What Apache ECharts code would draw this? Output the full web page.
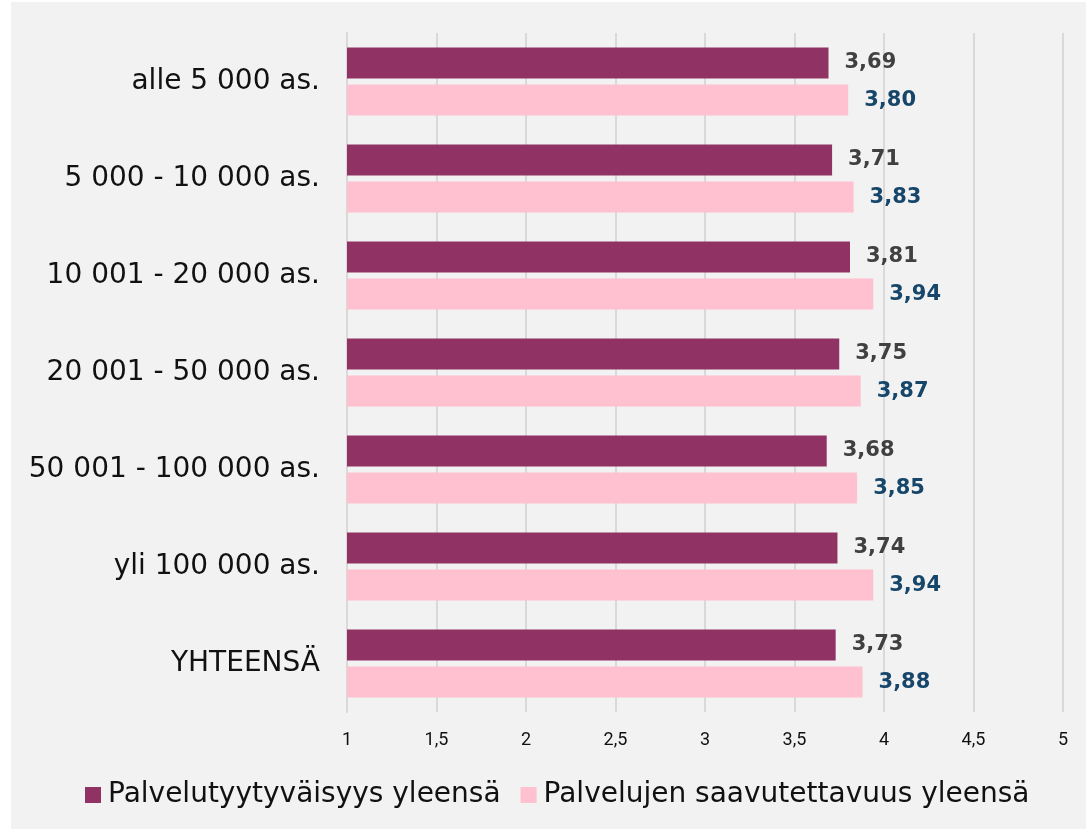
<!DOCTYPE html>
<html>
<head>
<meta charset="utf-8">
<script src="https://cdn.jsdelivr.net/npm/echarts@6/dist/echarts.min.js"></script>
<style>
html,body{margin:0;padding:0;background:#ffffff;}
#bg{position:absolute;left:11px;top:2px;width:1075px;height:827px;background:#f2f2f2;}
#chart{position:absolute;left:0;top:0;width:1086px;height:829px;}
</style>
</head>
<body>
<div id="bg"></div>
<div id="chart"></div>
<script>
const categories = ["alle 5 000 as.", "5 000 - 10 000 as.", "10 001 - 20 000 as.", "20 001 - 50 000 as.", "50 001 - 100 000 as.", "yli 100 000 as.", "YHTEENSÄ"];
const seriesNames = ["Palvelutyytyväisyys yleensä", "Palvelujen saavutettavuus yleensä"];
const satisfaction = [3.69, 3.71, 3.81, 3.75, 3.68, 3.74, 3.73];
const accessibility = [3.80, 3.83, 3.94, 3.87, 3.85, 3.94, 3.88];
const xTicks = [1, 1.5, 2, 2.5, 3, 3.5, 4, 4.5, 5];

const chart = echarts.init(document.getElementById('chart'), null, {renderer: 'canvas'});
const fmt = v => String(v).replace('.', ',');
const labelFmt = p => p.value.toFixed(2).replace('.', ',');
chart.setOption({
  backgroundColor: 'transparent',
  animation: false,
  grid: {left: 347, right: 23, top: 33, bottom: 117, containLabel: false},
  legend: {
    data: seriesNames,
    left: 85, top: 781, padding: 0,
    itemWidth: 16, itemHeight: 16, itemGap: 20,
    icon: 'rect',
    textStyle: {fontFamily: 'DejaVu Sans', fontSize: 28, color: '#111', padding: [0,0,0,2]}
  },
  xAxis: {
    type: 'value', min: xTicks[0], max: xTicks[xTicks.length-1], interval: 0.5,
    axisLine: {show: false},
    axisTick: {show: false},
    splitLine: {show: true, lineStyle: {color: '#d9d9d9', width: 2}},
    axisLabel: {formatter: v => fmt(v), fontFamily: 'Liberation Sans Narrow, Roboto', fontSize: 18, color: '#111', margin: 19}
  },
  yAxis: {
    type: 'category', data: categories, inverse: true,
    axisLine: {show: true, lineStyle: {color: '#d9d9d9', width: 2}},
    axisTick: {show: false},
    axisLabel: {fontFamily: 'DejaVu Sans', fontSize: 28, color: '#111', margin: 27}
  },
  series: [
    {
      name: seriesNames[0], type: 'bar', data: satisfaction,
      barWidth: 31, barGap: '20%', barCategoryGap: '30%',
      itemStyle: {color: '#913264'},
      label: {show: true, position: 'right', distance: 16, formatter: labelFmt,
        fontFamily: 'DejaVu Sans', fontWeight: 'bold', fontSize: 21, color: '#404040'}
    },
    {
      name: seriesNames[1], type: 'bar', data: accessibility,
      barWidth: 31, barGap: '20%', barCategoryGap: '30%',
      itemStyle: {color: '#ffc0cf'},
      label: {show: true, position: 'right', distance: 16, formatter: labelFmt,
        fontFamily: 'DejaVu Sans', fontWeight: 'bold', fontSize: 21, color: '#16466a'}
    }
  ]
});
</script>
</body>
</html>
